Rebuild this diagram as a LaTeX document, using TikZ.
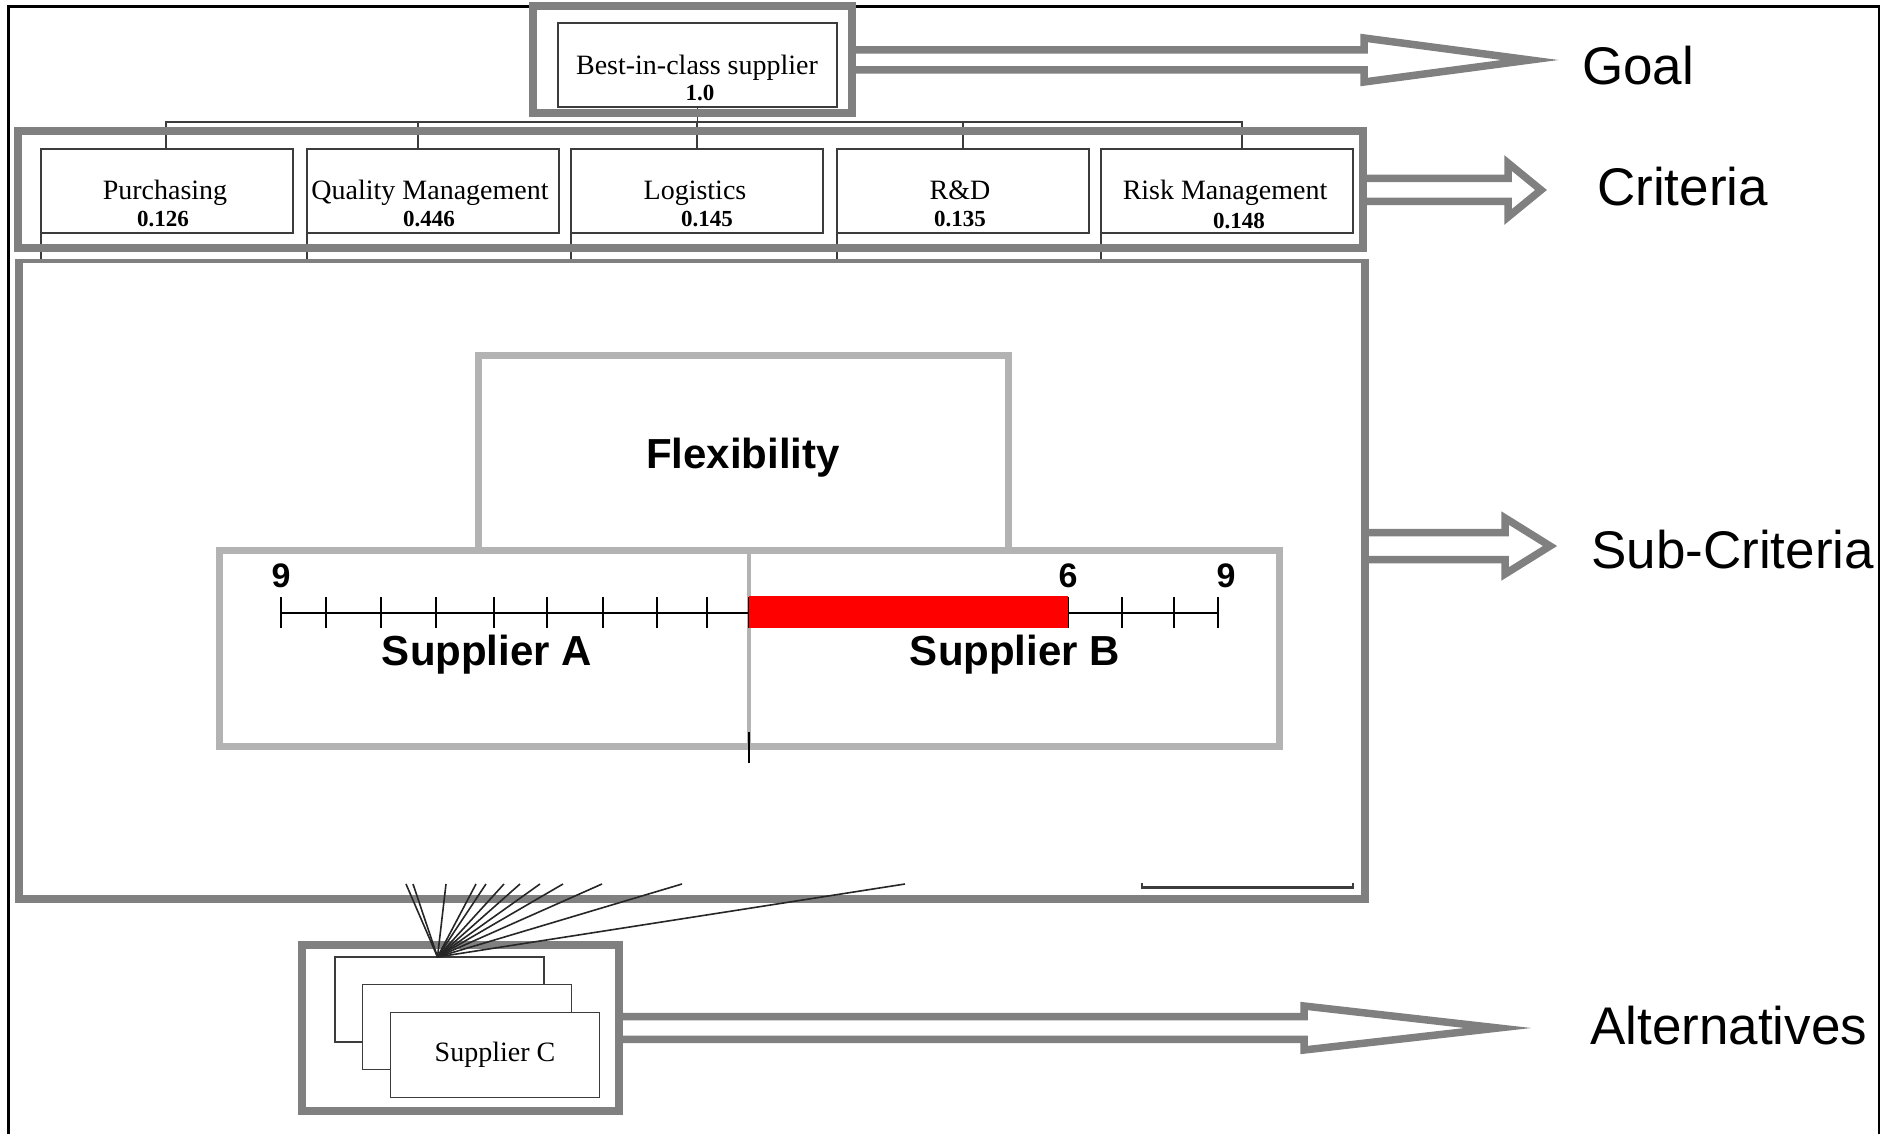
\documentclass[tikz,border=0pt]{standalone}
\usepackage{fontspec}
\setmainfont{Liberation Serif}
\newfontfamily\arialfont{Liberation Sans}
\usepackage{xcolor}
\usetikzlibrary{positioning,calc}

\definecolor{framegray}{HTML}{808080}
\definecolor{scalegray}{HTML}{B3B3B3}
\definecolor{boxgray}{HTML}{3C3C3C}

% hollow block arrow: from anchor, half shaft, head base x, half head, tip x
\newcommand{\hollowarrow}[5]{%
  \draw[hollow] let \p1=(#1) in
    (\x1,\y1+#2pt) -- (#3pt,\y1+#2pt) -- (#3pt,\y1+#4pt) -- (#5pt,\y1)
    -- (#3pt,\y1-#4pt) -- (#3pt,\y1-#2pt) -- (\x1,\y1-#2pt);}

\begin{document}
\begin{tikzpicture}[x=1pt,y=-1pt,
    bigframe/.style={draw=framegray, line width=8pt, inner sep=0pt, outer sep=0pt},
    scaleframe/.style={draw=scalegray, line width=7pt, inner sep=0pt, outer sep=0pt},
    critbox/.style={draw=boxgray, line width=1.8pt, minimum width=252pt, minimum height=84pt, inner sep=0pt, outer sep=0pt},
    altbox/.style={draw=boxgray, fill=white, line width=1.8pt, minimum width=209pt, minimum height=85pt, inner sep=0pt, outer sep=0pt},
    link/.style={draw=boxgray, line width=1.8pt},
    fanline/.style={draw=black!85, line width=1.6pt},
    hollow/.style={draw=framegray, line width=7.5pt, line join=miter},
    nametext/.style={anchor=base, inner sep=0pt, font=\fontsize{28}{30}\selectfont},
    valtext/.style={anchor=base, inner sep=0pt, font=\bfseries\fontsize{23}{25}\selectfont},
    leveltext/.style={anchor=base west, inner sep=0pt, font=\arialfont\fontsize{53}{60}\selectfont},
    scaletext/.style={anchor=base, inner sep=0pt, font=\arialfont\bfseries\fontsize{42}{48}\selectfont},
    ticktext/.style={anchor=base, inner sep=0pt, font=\arialfont\bfseries\fontsize{34}{40}\selectfont}]

    \useasboundingbox (0,0) rectangle (1883,1134);
    \draw[line width=2.5pt] (8.5,1134) -- (8.5,6.5) -- (1879,6.5) -- (1879,1134);

    % goal
    \node[critbox, minimum width=279pt] (goal) at (697.5,65) {};
    \node[nametext] at (697,75) {Best-in-class supplier};
    \node[valtext] at (700,101) {1.0};

    % criteria
    \node[critbox] (purch) at (167,191) {};
    \node[critbox] (qual) at (433,191) {};
    \node[critbox] (logi) at (697,191) {};
    \node[critbox] (rnd) at (963,191) {};
    \node[critbox] (risk) at (1227,191) {};

    \node[nametext] at (165,200) {Purchasing};
    \node[valtext] at (163,227) {0.126};
    \node[nametext] at (430,200) {Quality Management};
    \node[valtext] at (429,227) {0.446};
    \node[nametext] at (695,200) {Logistics};
    \node[valtext] at (707,227) {0.145};
    \node[nametext] at (960,200) {R\&D};
    \node[valtext] at (960,227) {0.135};
    \node[nametext] at (1225,200) {Risk Management};
    \node[valtext] at (1239,229) {0.148};

    \coordinate (bus) at (697.5,122);
    \draw[link] (goal.south) -- (bus);
    \foreach \n/\dx in {purch/-1,qual/-15,logi/0,rnd/0,risk/15}
        \draw[link] (bus) -| ([xshift=\dx pt]\n.north);
    \foreach \n in {purch,qual,logi,rnd,risk}
        \draw[link] (\n.south west) -- ++(0,28);

    \node[bigframe, minimum width=319pt, minimum height=107pt] (goalframe) at (692,60) {};
    \node[bigframe, minimum width=1345pt, minimum height=117pt] (critframe) at (690.5,190) {};

    % sub-criteria
    \draw[framegray, line width=8pt] (19,261) -- (19,899) -- (1365,899) -- (1365,261);
    \draw[framegray, line width=3.5pt] (15,261) -- (1369,261);
    \coordinate (subside) at (1365,546);
    \draw[boxgray, line width=2.5pt] (1142,883) |- (1353,887.5) -- (1353,883);

    \node[scaleframe, minimum width=530pt, minimum height=195pt, text height=40pt, text depth=9pt,
          font=\arialfont\bfseries\fontsize{42}{48}\selectfont] (flex) at (743,452.5) {Flexibility};
    \node[scaleframe, minimum width=1060pt, minimum height=196pt] (scale) at (749,648) {};
    \draw[scalegray, line width=4.5pt] (scale.north) -- (scale.south);
    \draw[line width=2pt] ([yshift=14pt]scale.south) -- ([yshift=-17pt]scale.south);

    \draw[line width=2pt] (281,613) -- (1218,613);
    \foreach \x in {281,326,381,436,494,547,603,657,707,749,791,846,902,960,1012,1068,1122,1174,1218}
        \draw[line width=1.6pt] (\x,597) -- (\x,628);
    \fill[red] (749,596) rectangle (1068,628);

    \node[ticktext] at (281,587) {9};
    \node[ticktext] at (1068,587) {6};
    \node[ticktext] at (1226,587) {9};
    \node[scaletext] at (487,665) {Supplier A};
    \node[scaletext] at (1015,665) {Supplier B};

    % alternatives
    \node[bigframe, minimum width=317pt, minimum height=166pt] (altframe) at (460.5,1028) {};
    \node[altbox] (alt1) at (439.5,999.5) {};
    \node[altbox] (alt2) at (467,1027) {};
    \node[altbox, font=\fontsize{28}{30}\selectfont] (alt3) at (495,1055) {Supplier C};

    \coordinate (hub) at ([xshift=-2pt]alt1.north);
    \foreach \x [count=\i] in {406,413,446,476,486,504,520,540,563,602,682,905} {
        \coordinate (fan\i) at (\x,884);
        \draw[fanline] (fan\i) -- (hub);
    }

    % level labels
    \node[leveltext] (goallabel) at (1582,85) {Goal};
    \node[leveltext] (critlabel) at (1597,206) {Criteria};
    \node[leveltext] (sublabel) at (1591,568) {Sub-Criteria};
    \node[leveltext] (altlabel) at (1590,1044) {Alternatives};

    \hollowarrow{goalframe.east}{10}{1364}{22}{1530}
    \hollowarrow{critframe.east}{11.5}{1508}{27}{1541}
    \hollowarrow{subside}{13.5}{1505}{28}{1550}
    \hollowarrow{altframe.east}{11.3}{1304}{22}{1498}
\end{tikzpicture}
\end{document}
